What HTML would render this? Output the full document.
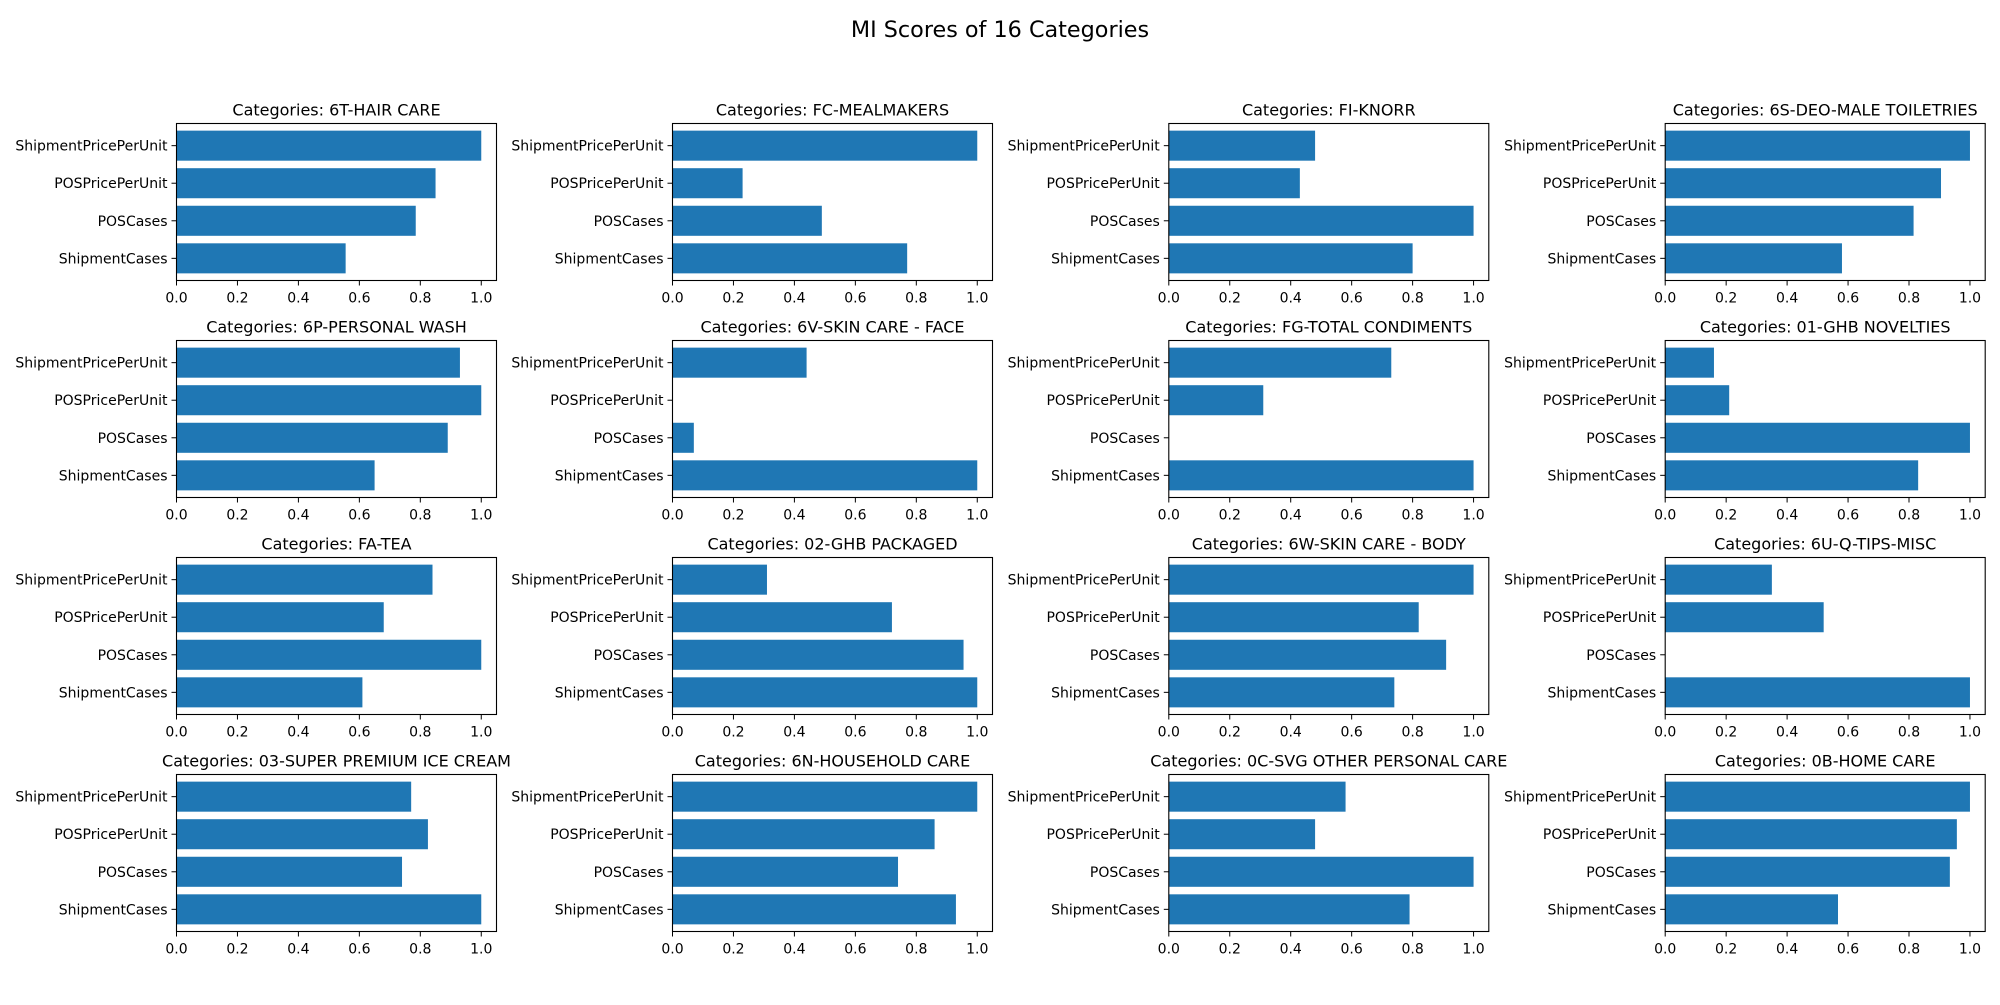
<!DOCTYPE html>
<html><head><meta charset="utf-8"><style>
html,body{margin:0;padding:0;background:#fff;}
svg text{font-family:"DejaVu Sans","Liberation Sans",sans-serif;fill:#000;}
</style></head><body>
<svg id="fig" width="2000" height="1000" xmlns="http://www.w3.org/2000/svg">
<rect width="2000" height="1000" fill="#fff"/>
<text x="1000" y="37" font-size="22.3" text-anchor="middle">MI Scores of 16 Categories</text>
</svg>
<script>
const features = ["ShipmentCases","POSCases","POSPricePerUnit","ShipmentPricePerUnit"];
const categories = ["6T-HAIR CARE","FC-MEALMAKERS","FI-KNORR","6S-DEO-MALE TOILETRIES",
"6P-PERSONAL WASH","6V-SKIN CARE - FACE","FG-TOTAL CONDIMENTS","01-GHB NOVELTIES",
"FA-TEA","02-GHB PACKAGED","6W-SKIN CARE - BODY","6U-Q-TIPS-MISC",
"03-SUPER PREMIUM ICE CREAM","6N-HOUSEHOLD CARE","0C-SVG OTHER PERSONAL CARE","0B-HOME CARE"];
// values in order [ShipmentPricePerUnit, POSPricePerUnit, POSCases, ShipmentCases]
const scores = [
[1.0,0.85,0.785,0.555],[1.0,0.23,0.49,0.77],[0.48,0.43,1.0,0.80],[1.0,0.905,0.815,0.58],
[0.93,1.0,0.89,0.65],[0.44,0,0.07,1.0],[0.73,0.31,0,1.0],[0.16,0.21,1.0,0.83],
[0.84,0.68,1.0,0.61],[0.31,0.72,0.955,1.0],[1.0,0.82,0.91,0.74],[0.35,0.52,0,1.0],
[0.77,0.825,0.74,1.0],[1.0,0.86,0.74,0.93],[0.58,0.48,1.0,0.79],[1.0,0.957,0.934,0.567]];
const xTicks = [0,0.2,0.4,0.6,0.8,1.0];
const tickLabels = ["0.0","0.2","0.4","0.6","0.8","1.0"];

const svg = document.getElementById('fig');
const NS = "http://www.w3.org/2000/svg";
function mk(tag, attrs, parent){const e=document.createElementNS(NS,tag);for(const k in attrs)e.setAttribute(k,attrs[k]);(parent||svg).appendChild(e);return e;}
const lefts=[176.5,672.5,1168.8,1665.2], tops=[123.5,340.5,557.5,774.5];
const W=320, H=157, XMAX=1.05, YMIN=-0.59, YMAX=3.59;
categories.forEach((cat,i)=>{
  const L=lefts[i%4], T=tops[Math.floor(i/4)];
  const g=mk('g',{});
  
  
  const xs=v=>L+v/XMAX*W;
  const ys=v=>T+H-(v-YMIN)/(YMAX-YMIN)*H;
  const vals=scores[i];
  features.forEach((f,j)=>{
    const v=vals[3-j];
    const r=mk('rect',{x:xs(0),y:ys(j+0.4),width:Math.max(0,xs(v)-xs(0)),height:ys(j-0.4)-ys(j+0.4),fill:'#1f77b4'},g);
    
    
    mk('line',{x1:L,x2:L-5,y1:ys(j),y2:ys(j),stroke:'#000','stroke-width':1},g);
    const t=mk('text',{x:L-9,y:ys(j)+5,'font-size':'14','text-anchor':'end'},g);
    t.textContent=f;
    
    
  });
  xTicks.forEach((v,k)=>{
    mk('line',{x1:xs(v),x2:xs(v),y1:T+H,y2:T+H+5,stroke:'#000','stroke-width':1},g);
    const t=mk('text',{x:xs(v),y:T+H+22,'font-size':'14','text-anchor':'middle'},g);
    t.textContent=tickLabels[k];
    
    
  });
  const fr=mk('rect',{x:L,y:T,width:W,height:H,fill:'none',stroke:'#000','stroke-width':1.1},g);
  
  
  const tt=mk('text',{x:L+W/2,y:T-8,'font-size':'16','text-anchor':'middle'},g);
  tt.textContent='Categories: '+cat;
  
  
});
</script>
</body></html>
